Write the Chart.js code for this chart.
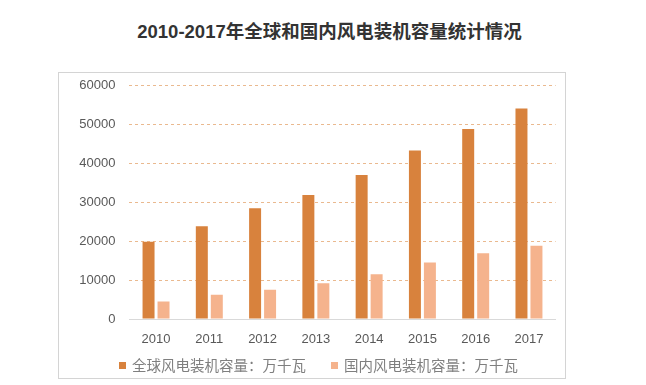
<!DOCTYPE html>
<html>
<head>
<meta charset="utf-8">
<script src="https://cdn.jsdelivr.net/npm/chart.js@4"></script>
<style>
  body { margin: 0; background: #fff; }
  #wrap { position: relative; width: 646px; height: 385px; }
  #title {
    position: absolute; left: 0; top: 17px; width: 659px; text-align: center;
    font: bold 18.5px "Liberation Sans", "Noto Sans CJK SC", sans-serif; color: #333;
  }
  #frame {
    position: absolute; left: 58px; top: 72px; width: 506px; height: 305px;
    border: 1px solid #d4d4d4; pointer-events: none;
  }
  #legend {
    position: absolute; left: 119px; top: 354px; white-space: nowrap;
    font: 14.5px "Noto Sans CJK SC", sans-serif; color: #7f7f7f;
  }
  #legend span.item { display: inline-block; margin-right: 25px; }
  #legend i { display: inline-block; width: 7px; height: 7px; margin-right: 6px; vertical-align: 2px; }
  canvas { position: absolute; left: 0; top: 0; }
</style>
</head>
<body>
<div id="wrap">
  <div id="title">2010-2017年全球和国内风电装机容量统计情况</div>
  <div id="frame"></div>
  <canvas id="chart" width="646" height="385"></canvas>
  <div id="legend"></div>
</div>
<script>
const years = ['2010', '2011', '2012', '2013', '2014', '2015', '2016', '2017'];
const globalCap = [19800, 23800, 28400, 31800, 36900, 43200, 48700, 54000];
const chinaCap = [4470, 6240, 7530, 9140, 11460, 14500, 16870, 18800];
const seriesNames = ['全球风电装机容量：万千瓦', '国内风电装机容量：万千瓦'];
const yTicks = [0, 10000, 20000, 30000, 40000, 50000, 60000];

const colors = ['#d8823d', '#f5b38d'];

const ctx = document.getElementById('chart').getContext('2d');
const chart = new Chart(ctx, {
  type: 'bar',
  data: {
    labels: years,
    datasets: [
      { label: seriesNames[0], data: globalCap, backgroundColor: colors[0] },
      { label: seriesNames[1], data: chinaCap, backgroundColor: colors[1] }
    ]
  },
  options: {
    responsive: false,
    animation: false,
    layout: { padding: { left: 0, right: 90.4, top: 85, bottom: 0 } },
    datasets: { bar: { categoryPercentage: 0.5625, barPercentage: 0.8 } },
    plugins: { legend: { display: false }, title: { display: false }, tooltip: { enabled: false } },
    scales: {
      x: {
        grid: { display: false, drawTicks: false },
        border: { color: '#d9d9d9' },
        ticks: { color: '#595959', padding: 13, font: { family: 'Liberation Sans', size: 13 } },
        afterFit: s => { s.height = 66; }
      },
      y: {
        min: 0, max: 60000,
        afterBuildTicks: s => { s.ticks = yTicks.map(v => ({ value: v })); },
        grid: {
          drawTicks: false,
          color: c => c.tick && c.tick.value === 0 ? 'rgba(0,0,0,0)' : '#eab98f'
        },
        border: { display: false, dash: [3, 3] },
        ticks: {
          color: '#595959', padding: 14, font: { family: 'Liberation Sans', size: 13 },
          callback: v => String(v)
        },
        afterFit: s => { s.width = 129.4; }
      }
    }
  }
});

const legend = document.getElementById('legend');
chart.data.datasets.forEach(ds => {
  const item = document.createElement('span');
  item.className = 'item';
  const box = document.createElement('i');
  box.style.background = ds.backgroundColor;
  item.appendChild(box);
  item.appendChild(document.createTextNode(ds.label));
  legend.appendChild(item);
});
</script>
</body>
</html>
